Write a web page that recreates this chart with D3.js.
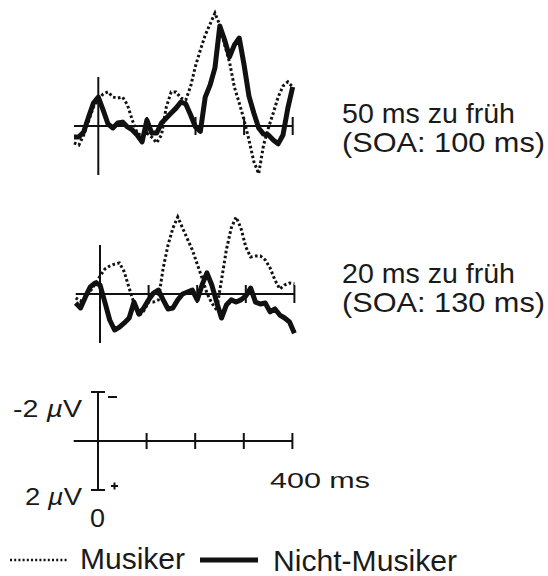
<!DOCTYPE html>
<html>
<head>
<meta charset="utf-8">
<script src="https://cdn.jsdelivr.net/npm/d3@7/dist/d3.min.js"></script>
<style>
  html, body { margin: 0; padding: 0; background: #fff; }
  svg { display: block; }
  text { font-family: "Liberation Sans", Arial, sans-serif; fill: #1a1a1a; }
</style>
</head>
<body>
<svg id="chart" width="548" height="576"></svg>
<script>
// ---- Data (µV, negative plotted upward), sampled every 10 ms ----
const times = [-50,-40,-30,-20,-10,0,10,20,30,40,50,60,70,80,90,100,110,120,130,140,150,160,170,180,190,200,
  210,220,230,240,250,260,270,280,290,300,310,320,330,340,350,360,370,380,390,400];

// Panel 1: 50 ms zu früh (SOA: 100 ms)
const musiker50 = [0.69,0.78,0.37,-0.20,-0.78,-1.06,-1.31,-1.39,-1.18,-1.14,-1.18,-0.86,-0.24,0.29,0.41,0.29,0.45,0.69,0.37,-0.78,
  -1.39,-1.39,-1.14,-1.06,-1.62,-2.45,-3.10,-3.71,-4.16,-4.61,-4.12,-3.31,-2.61,-1.59,-0.94,-0.24,0.57,1.45,1.95,0.78,
  0.08,-0.53,-1.18,-1.63,-1.80,-1.59];
const nichtMusiker50 = [0.45,0.45,0.24,-0.37,-0.94,-1.18,-0.65,-0.08,0.08,-0.12,-0.16,0.04,0.16,0.37,0.65,-0.24,0.29,0.29,-0.12,-0.33,
  -0.53,-0.73,-0.98,-0.90,-0.45,0.04,0.22,-1.18,-1.67,-2.37,-4.08,-3.51,-2.82,-3.31,-3.59,-2.49,-1.22,-0.53,0.08,0.33,
  0.37,0.57,0.73,0.37,-0.73,-1.59];

// Panel 2: 20 ms zu früh (SOA: 130 ms)
const musiker20 = [0.16,0.29,0.12,-0.12,-0.41,-0.73,-1.02,-1.14,-1.22,-1.27,-0.90,-0.24,0.37,0.90,0.69,0.33,0.33,0.24,-1.06,-2.00,
  -2.69,-3.14,-2.69,-2.24,-1.80,-1.22,-0.65,-0.04,0.37,0.65,-0.57,-1.80,-2.69,-3.14,-2.69,-1.92,-1.51,-1.55,-1.55,-1.39,
  -1.06,-0.57,-0.20,-0.37,-0.45,-0.41];
const nichtMusiker20 = [0.37,0.57,0.12,-0.29,-0.45,-0.37,0.33,1.06,1.47,1.35,1.18,0.98,0.33,0.82,0.57,0.24,-0.04,-0.16,0.24,0.61,
  0.57,0.24,0.00,-0.08,-0.16,0.24,-0.37,-0.86,-0.37,0.33,0.98,0.45,0.24,0.33,0.24,0.08,-0.24,0.33,0.41,0.37,
  0.73,0.61,0.86,0.98,1.14,1.60];

const axisTicks = [100, 200, 300, 400];
const conditionLabels = [["50 ms zu früh", "(SOA: 100 ms)"], ["20 ms zu früh", "(SOA: 130 ms)"]];
const legendLabels = ["Musiker", "Nicht-Musiker"];
const scaleLabels = { top: "-2 ", bottom: "2 ", mu: "µ", volt: "V", time: "400 ms", zero: "0" };

// ---- Drawing ----
const svg = d3.select("#chart");
const PX_PER_MS = 0.486;
const PX_PER_UV = 24.5;

function makeScales(x0, y0) {
  const x = d3.scaleLinear().domain([0, 400]).range([x0, x0 + 400 * PX_PER_MS]);
  const y = d3.scaleLinear().domain([-2, 2]).range([y0 - 2 * PX_PER_UV, y0 + 2 * PX_PER_UV]);
  return { x, y };
}

function drawAxes(g, s, opts) {
  const ax = g.append("g").attr("stroke", "#111").attr("stroke-width", 2).attr("fill", "none");
  ax.append("line").attr("x1", s.x(-50)).attr("x2", s.x(400)).attr("y1", s.y(0)).attr("y2", s.y(0));
  ax.append("line").attr("x1", s.x(0)).attr("x2", s.x(0)).attr("y1", s.y(-2)).attr("y2", s.y(2));
  ax.selectAll("line.tick").data(axisTicks).join("line").attr("class", "tick")
    .attr("x1", d => s.x(d)).attr("x2", d => s.x(d))
    .attr("y1", s.y(0) - opts.tick).attr("y2", s.y(0) + opts.tick);
  if (opts.caps) {
    [-2, 2].forEach(v => {
      ax.append("line").attr("x1", s.x(0) - 7).attr("x2", s.x(0) + 7).attr("y1", s.y(v)).attr("y2", s.y(v));
    });
  }
}

function drawTraces(g, s, dotted, solid) {
  const line = d3.line().x((d, i) => s.x(times[i])).y(d => s.y(d)).curve(d3.curveLinear);
  g.append("path").datum(dotted).attr("d", line)
    .attr("fill", "none").attr("stroke", "#111").attr("stroke-width", 3)
    .attr("stroke-dasharray", "2.6,2.4");
  g.append("path").datum(solid).attr("d", line)
    .attr("fill", "none").attr("stroke", "#111").attr("stroke-width", 5)
    .attr("stroke-linejoin", "round");
}

const panels = [
  { x0: 98.3, y0: 126, dotted: musiker50, solid: nichtMusiker50, labelY: 123, label: conditionLabels[0] },
  { x0: 100, y0: 294, dotted: musiker20, solid: nichtMusiker20, labelY: 283, label: conditionLabels[1] }
];

panels.forEach(p => {
  const s = makeScales(p.x0, p.y0);
  const g = svg.append("g");
  drawAxes(g, s, { tick: 9, caps: false });
  drawTraces(g, s, p.dotted, p.solid);
  svg.append("text").attr("x", 342).attr("y", p.labelY).attr("font-size", 28)
    .attr("textLength", 173).attr("lengthAdjust", "spacingAndGlyphs").text(p.label[0]);
  svg.append("text").attr("x", 342).attr("y", p.labelY + 28.5).attr("font-size", 28)
    .attr("textLength", 203).attr("lengthAdjust", "spacingAndGlyphs").text(p.label[1]);
});

// Scale bar
{
  const s = makeScales(98, 441);
  const g = svg.append("g");
  drawAxes(g, s, { tick: 8, caps: true });
  const t1 = svg.append("text").attr("x", 13).attr("y", 417).attr("font-size", 24)
    .attr("textLength", 69).attr("lengthAdjust", "spacingAndGlyphs");
  t1.append("tspan").text(scaleLabels.top);
  t1.append("tspan").attr("font-style", "italic").text(scaleLabels.mu);
  t1.append("tspan").text(scaleLabels.volt);
  const t2 = svg.append("text").attr("x", 25).attr("y", 505).attr("font-size", 24)
    .attr("textLength", 57).attr("lengthAdjust", "spacingAndGlyphs");
  t2.append("tspan").text(scaleLabels.bottom);
  t2.append("tspan").attr("font-style", "italic").text(scaleLabels.mu);
  t2.append("tspan").text(scaleLabels.volt);
  svg.append("text").attr("x", 270).attr("y", 488).attr("font-size", 22.5)
    .attr("textLength", 100).attr("lengthAdjust", "spacingAndGlyphs").text(scaleLabels.time);
  svg.append("text").attr("x", 97.5).attr("y", 527).attr("font-size", 25).attr("text-anchor", "middle")
    .attr("textLength", 15).attr("lengthAdjust", "spacingAndGlyphs").text(scaleLabels.zero);
  // polarity marks
  svg.append("line").attr("x1", 108).attr("x2", 117).attr("y1", 397).attr("y2", 397)
    .attr("stroke", "#111").attr("stroke-width", 2);
  svg.append("line").attr("x1", 111).attr("x2", 118).attr("y1", 486).attr("y2", 486)
    .attr("stroke", "#111").attr("stroke-width", 2);
  svg.append("line").attr("x1", 114.5).attr("x2", 114.5).attr("y1", 482.5).attr("y2", 489.5)
    .attr("stroke", "#111").attr("stroke-width", 2);
}

// Legend
{
  svg.append("line").attr("x1", 10).attr("x2", 68).attr("y1", 560).attr("y2", 560)
    .attr("stroke", "#111").attr("stroke-width", 2.4).attr("stroke-dasharray", "2,2.2");
  svg.append("text").attr("x", 80).attr("y", 569).attr("font-size", 30)
    .attr("textLength", 105).attr("lengthAdjust", "spacingAndGlyphs").text(legendLabels[0]);
  svg.append("line").attr("x1", 200).attr("x2", 258).attr("y1", 560).attr("y2", 560)
    .attr("stroke", "#111").attr("stroke-width", 5);
  svg.append("text").attr("x", 273).attr("y", 571).attr("font-size", 30)
    .attr("textLength", 184).attr("lengthAdjust", "spacingAndGlyphs").text(legendLabels[1]);
}
</script>
</body>
</html>
